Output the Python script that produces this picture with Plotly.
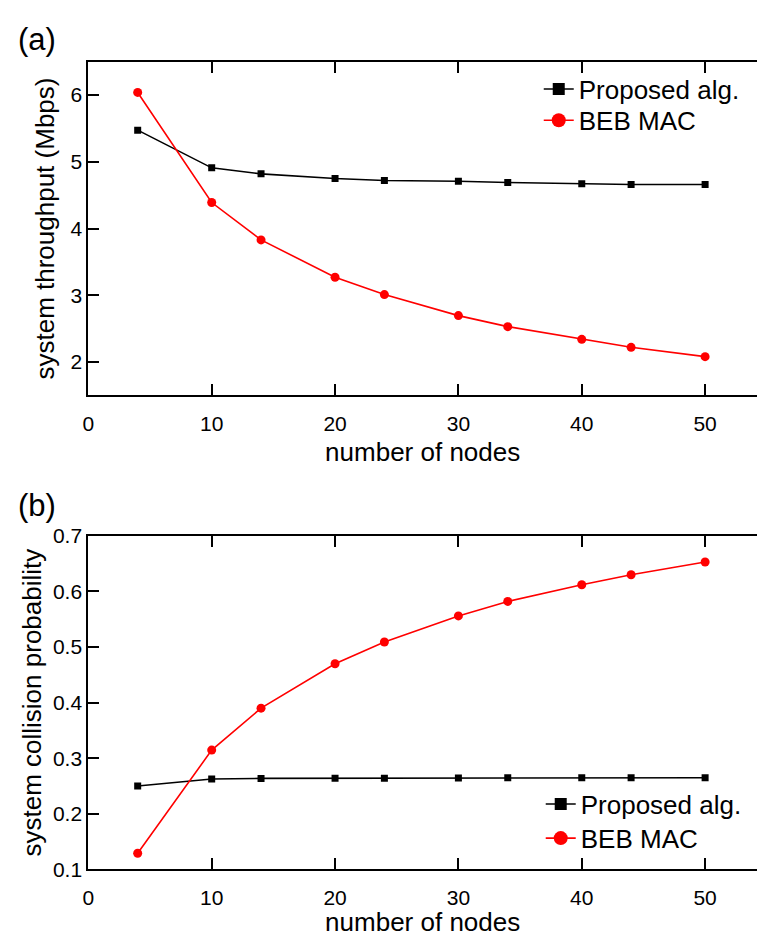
import plotly.graph_objects as go

nodes = [4, 10, 14, 20, 24, 30, 34, 40, 44, 50]
thr_proposed = [5.475, 4.91, 4.82, 4.75, 4.72, 4.71, 4.69, 4.67, 4.66, 4.66]
thr_beb = [6.04, 4.39, 3.83, 3.27, 3.01, 2.695, 2.53, 2.34, 2.22, 2.08]
col_proposed = [0.250, 0.2626, 0.2637, 0.264, 0.264, 0.2644, 0.265, 0.265, 0.265, 0.265]
col_beb = [0.129, 0.3146, 0.390, 0.470, 0.509, 0.556, 0.582, 0.612, 0.630, 0.653]

x_ticks = [0, 10, 20, 30, 40, 50]
thr_ticks = [2, 3, 4, 5, 6]
col_ticks = [0.1, 0.2, 0.3, 0.4, 0.5, 0.6, 0.7]
col_ticktext = ["0.1", "0.2", "0.3", "0.4", "0.5", "0.6", "0.7"]

names = ["Proposed alg.", "BEB MAC"]
colors = ["#000000", "#ff0000"]
symbols = ["square", "circle"]

FONT = "Liberation Sans, Arial, Helvetica, sans-serif"
W, H = 757, 937

fig = go.Figure()

series = [
    ("x", "y", thr_proposed, thr_beb, ["legend", "legend3"]),
    ("x2", "y2", col_proposed, col_beb, ["legend2", "legend4"]),
]
for xa, ya, prop, beb, lgs in series:
    for name, vals, c, s, ms in [(names[0], prop, colors[0], symbols[0], 7),
                                  (names[1], beb, colors[1], symbols[1], 9)]:
        fig.add_trace(go.Scatter(
            x=nodes, y=vals, mode="lines+markers", xaxis=xa, yaxis=ya,
            line=dict(color=c, width=1.6), marker=dict(symbol=s, size=ms, color=c),
            showlegend=False, name=name))
    # legend-only entries with larger markers
    for (name, c, s, ms), lg in zip([(names[0], colors[0], symbols[0], 12),
                                     (names[1], colors[1], symbols[1], 14)], lgs):
        fig.add_trace(go.Scatter(
            x=[None], y=[None], mode="lines+markers", xaxis=xa, yaxis=ya,
            line=dict(color=c, width=1.6), marker=dict(symbol=s, size=ms, color=c),
            showlegend=True, name=name, legend=lg))

x0_px = 83
px_per_unit = (704.7 - 83) / 50.0
x_max = (W - x0_px) / px_per_unit

top_dom = [1 - 393 / H, 1 - 51 / H]
bot_dom = [1 - 879 / H, 1 - 537 / H]

xcommon = dict(
    range=[0, x_max], domain=[x0_px / W, 1], tickvals=x_ticks,
    ticks="inside", ticklen=11, tickwidth=2, tickcolor="black",
    showline=True, linewidth=2, linecolor="black", mirror="allticks",
    showgrid=False, zeroline=False, ticklabelstandoff=8,
    tickfont=dict(family=FONT, size=21, color="black"),
    title=dict(text="number of nodes", font=dict(family=FONT, size=26, color="black"), standoff=9),
)
ycommon = dict(
    ticks="inside", ticklen=11, tickwidth=2, tickcolor="black",
    showline=True, linewidth=2, linecolor="black", mirror=False,
    showgrid=False, zeroline=False,
    tickfont=dict(family=FONT, size=21, color="black"),
)


def leg(xpx, ypx):
    return dict(x=xpx / W, y=1 - ypx / H, xanchor="left", yanchor="middle",
                bgcolor="rgba(0,0,0,0)", font=dict(family=FONT, size=26, color="black"),
                tracegroupgap=0, itemwidth=30)


fig.update_layout(
    width=W, height=H,
    margin=dict(l=0, r=0, t=0, b=0),
    paper_bgcolor="white", plot_bgcolor="white",
    showlegend=True,
    xaxis=dict(**xcommon, anchor="y"),
    yaxis=dict(**ycommon, range=[1.5, 6.5], domain=top_dom, anchor="x", tickvals=thr_ticks,
               title=dict(text="system throughput (Mbps)", font=dict(family=FONT, size=26, color="black"), standoff=8)),
    xaxis2=dict(**xcommon, anchor="y2"),
    yaxis2=dict(**ycommon, range=[0.1, 0.7], domain=bot_dom, anchor="x2", tickvals=col_ticks,
                ticktext=col_ticktext,
                title=dict(text="system collision probability", font=dict(family=FONT, size=26, color="black"), standoff=4)),
    yaxis3=dict(overlaying="y", side="right", anchor="x", range=[1.5, 6.5], tickvals=thr_ticks,
                ticks="inside", ticklen=3, tickwidth=2, tickcolor="black", showticklabels=False,
                showline=False, showgrid=False, zeroline=False),
    yaxis4=dict(overlaying="y2", side="right", anchor="x2", range=[0.1, 0.7], tickvals=col_ticks,
                ticks="inside", ticklen=3, tickwidth=2, tickcolor="black", showticklabels=False,
                showline=False, showgrid=False, zeroline=False),
    legend=leg(537, 79),
    legend3=leg(537, 111),
    legend2=leg(539, 812),
    legend4=leg(539, 847),
    annotations=[
        dict(text="(a)", x=10 / W, y=1 - 8 / H, xref="paper", yref="paper", xanchor="left", yanchor="top",
             showarrow=False, font=dict(family=FONT, size=31, color="black")),
        dict(text="(b)", x=10 / W, y=1 - 486 / H, xref="paper", yref="paper", xanchor="left", yanchor="top",
             showarrow=False, font=dict(family=FONT, size=31, color="black")),
    ],
)

fig.write_html("out.html", post_script="document.body.style.margin='0px';")
